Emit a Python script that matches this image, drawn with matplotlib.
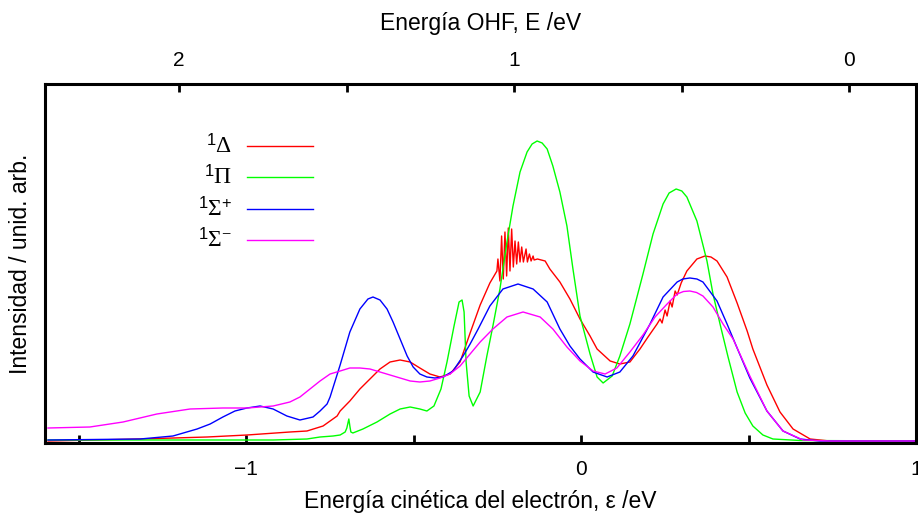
import numpy as np
import matplotlib
matplotlib.use("Agg")
import matplotlib.pyplot as plt

plt.rcParams['font.family'] = ['Liberation Sans', 'DejaVu Sans']
plt.rcParams['mathtext.fontset'] = 'custom'
plt.rcParams['mathtext.rm'] = 'Liberation Serif'
plt.rcParams['mathtext.it'] = 'Liberation Serif:italic'
plt.rcParams['mathtext.sf'] = 'Liberation Sans'

# ---------------- data ----------------
# kinetic energy eps (eV) and intensity (arb. units)
delta_eps = [-1.591, -1.316, -1.116, -0.997, -0.869, -0.818, -0.770, -0.749, -0.728, -0.719,
             -0.690, -0.660, -0.630, -0.600, -0.570, -0.540, -0.510, -0.481, -0.451, -0.421,
             -0.391, -0.361, -0.331, -0.301, -0.272, -0.251,
             -0.248, -0.242, -0.237, -0.232, -0.227, -0.222, -0.217, -0.212, -0.207, -0.202,
             -0.197, -0.192, -0.187, -0.182, -0.177, -0.172, -0.164, -0.160, -0.154, -0.149,
             -0.143, -0.140, -0.130,
             -0.107, -0.093, -0.063, -0.033, -0.003, 0.027, 0.048, 0.087, 0.116, 0.146,
             0.176, 0.200, 0.227, 0.236, 0.242, 0.251, 0.257, 0.266, 0.272, 0.281,
             0.287, 0.299, 0.316, 0.346, 0.370, 0.388, 0.406, 0.436, 0.466, 0.496, 0.513,
             0.534, 0.555, 0.594, 0.633, 0.684, 0.743, 1.0]
delta_val = [0, 2, 4, 6, 9, 10, 15, 20, 25, 30,
             40, 52, 62, 72, 79, 81, 79, 73, 67, 64,
             67, 79, 108, 136, 158, 170,
             182, 160, 205, 162, 209, 165, 213, 170, 212, 174,
             200, 177, 199, 179, 194, 179, 192, 179, 187, 180,
             185, 181, 182,
             180, 172, 159, 142, 122, 105, 92, 80, 77, 79,
             92, 104, 117, 122, 118, 131, 125, 140, 134, 150,
             146, 158, 170, 182, 185, 184, 180, 164, 138, 110, 92,
             74, 56, 29, 12, 2, 0, 0]

pi_eps = [-1.591, -1.137, -0.919, -0.818, -0.779, -0.740, -0.719, -0.704, -0.699, -0.693,
          -0.690, -0.687, -0.681, -0.651, -0.609, -0.570, -0.540, -0.510, -0.481, -0.460,
          -0.439, -0.418, -0.400, -0.379, -0.364, -0.355, -0.349, -0.343, -0.334, -0.322,
          -0.301, -0.281, -0.263, -0.242, -0.221, -0.203, -0.182, -0.161, -0.146, -0.131,
          -0.116, -0.101,
          -0.084, -0.063, -0.042, -0.024, -0.003, 0.027, 0.048, 0.066, 0.093, 0.116,
          0.146, 0.185, 0.215, 0.245, 0.263, 0.284, 0.301, 0.316, 0.346, 0.376, 0.394, 0.415,
          0.439, 0.466, 0.490, 0.513, 0.543, 0.573, 0.654, 1.0]
pi_val = [1, 1, 1, 2, 4, 5, 6, 9, 13, 22,
          15, 9, 8, 12, 19, 27, 32, 34, 32, 30,
          35, 52, 79, 115, 139, 141, 129, 79, 45, 35,
          49, 85, 115, 152, 199, 235, 269, 289, 297, 300,
          298, 292,
          275, 249, 215, 172, 125, 87, 64, 58, 65, 85,
          117, 167, 207, 237, 248, 252, 250, 244, 220, 180, 147, 117,
          84, 49, 28, 15, 6, 2, 0.5, 0]

sigp_eps = [-1.591, -1.316, -1.218, -1.146, -1.107, -1.069, -1.033, -0.997, -0.958, -0.919,
            -0.878, -0.839, -0.800, -0.779, -0.758, -0.749, -0.719, -0.690, -0.660, -0.648,
            -0.636, -0.621, -0.600, -0.579, -0.561, -0.540, -0.519, -0.501, -0.481, -0.460,
            -0.436, -0.412, -0.382, -0.352, -0.331, -0.307, -0.272, -0.233, -0.188, -0.143,
            -0.101, -0.063, -0.033, -0.003, 0.036, 0.078, 0.116, 0.155, 0.206, 0.245,
            0.287, 0.304, 0.325, 0.346, 0.364, 0.406, 0.436, 0.466, 0.504, 0.555,
            0.603, 0.654, 0.713, 1.0]
sigp_val = [1, 2, 5, 12, 17, 24, 30, 33, 35, 32,
            25, 21, 24, 30, 37, 44, 76, 109, 132, 137,
            142, 144, 141, 132, 119, 102, 85, 74, 67, 64,
            63, 64, 70, 85, 97, 112, 135, 152, 157, 152,
            139, 112, 95, 82, 69, 64, 69, 85, 117, 144,
            159, 162, 163, 162, 159, 140, 117, 93, 63, 30,
            10, 2, 0, 0]

sigm_eps = [-1.591, -1.466, -1.367, -1.266, -1.167, -1.069, -0.997, -0.919, -0.869, -0.839,
            -0.809, -0.779, -0.749, -0.719, -0.690, -0.660, -0.630, -0.600, -0.570, -0.540,
            -0.510, -0.481, -0.451, -0.421, -0.391, -0.361, -0.331, -0.301, -0.263, -0.221,
            -0.173, -0.122, -0.084, -0.042, -0.003, 0.036, 0.072, 0.107, 0.146, 0.185,
            0.221, 0.257, 0.287, 0.306, 0.325, 0.345, 0.364, 0.394, 0.424, 0.454, 0.504, 0.555,
            0.603, 0.663, 0.743, 1.0]
sigm_val = [13, 14, 19, 27, 32, 33, 33, 35, 39, 44,
            52, 60, 67, 70, 73, 73, 72, 69, 66, 63,
            60, 59, 60, 63, 67, 75, 87, 99, 112, 124,
            129, 124, 112, 94, 80, 70, 67, 73, 89, 106,
            124, 137, 147, 149.5, 150, 148.5, 145, 134, 117, 102, 65, 30,
            10, 1, 0, 0]

series_labels = [r'$^{\mathsf{1}}\Delta$', r'$^{\mathsf{1}}\Pi$',
                 r'$^{\mathsf{1}}\Sigma^{\mathsf{+}}$', r'$^{\mathsf{1}}\Sigma^{-}$']
series_colors = ['#ff0000', '#00ff00', '#0000ff', '#ff00ff']

OHF_OFFSET = 0.80          # E = OHF_OFFSET - eps
bottom_ticks = [-1.5, -1.0, -0.5, 0.0, 0.5, 1.0]
bottom_ticklabels = ['', '\u22121', '', '0', '', '1']
top_ticks = [2.0, 1.5, 1.0, 0.5, 0.0]
top_ticklabels = ['2', '', '1', '', '0']

# ---------------- figure ----------------
fig = plt.figure(figsize=(9.18, 5.17), dpi=100)
ax = fig.add_axes([45 / 918, 74 / 517, 871 / 918, 359 / 517])

series = [(delta_eps, delta_val), (pi_eps, pi_val), (sigp_eps, sigp_val), (sigm_eps, sigm_val)]
for (e, v), c in zip(series, series_colors):
    ax.plot(e, v, color=c, lw=1.0)

ax.set_xlim(-1.6, 1.0)
ax.set_ylim(-2, 357)
ax.set_yticks([])
ax.set_xticks(bottom_ticks)
ax.set_xticklabels(bottom_ticklabels)
ax.tick_params(axis='x', direction='in', length=6, width=2, labelsize=15, pad=12)
for s in ax.spines.values():
    s.set_linewidth(2.2)

ax.set_xlabel('Energía cinética del electrón, ε /eV', fontsize=16.5, labelpad=8)
ax.set_ylabel('Intensidad / unid. arb.', fontsize=16.5, labelpad=9)

top = ax.secondary_xaxis('top', functions=(lambda e: OHF_OFFSET - e, lambda E: OHF_OFFSET - E))
top.set_xticks(top_ticks)
top.set_xticklabels(top_ticklabels)
top.tick_params(axis='x', direction='in', length=6, width=2, labelsize=15, pad=10)
top.set_xlabel('Energía OHF, E /eV', fontsize=16.5, labelpad=15)

# legend (manual, text left of sample lines)
leg_y = [0.828, 0.740, 0.651, 0.565]
for lab, c, yy in zip(series_labels, series_colors, leg_y):
    ax.text(0.215, yy, lab, transform=ax.transAxes, ha='right', va='center', fontsize=17)
    ax.plot([0.232, 0.308], [yy, yy], transform=ax.transAxes, color=c, lw=1.0)

fig.savefig('out.png', dpi=100)
